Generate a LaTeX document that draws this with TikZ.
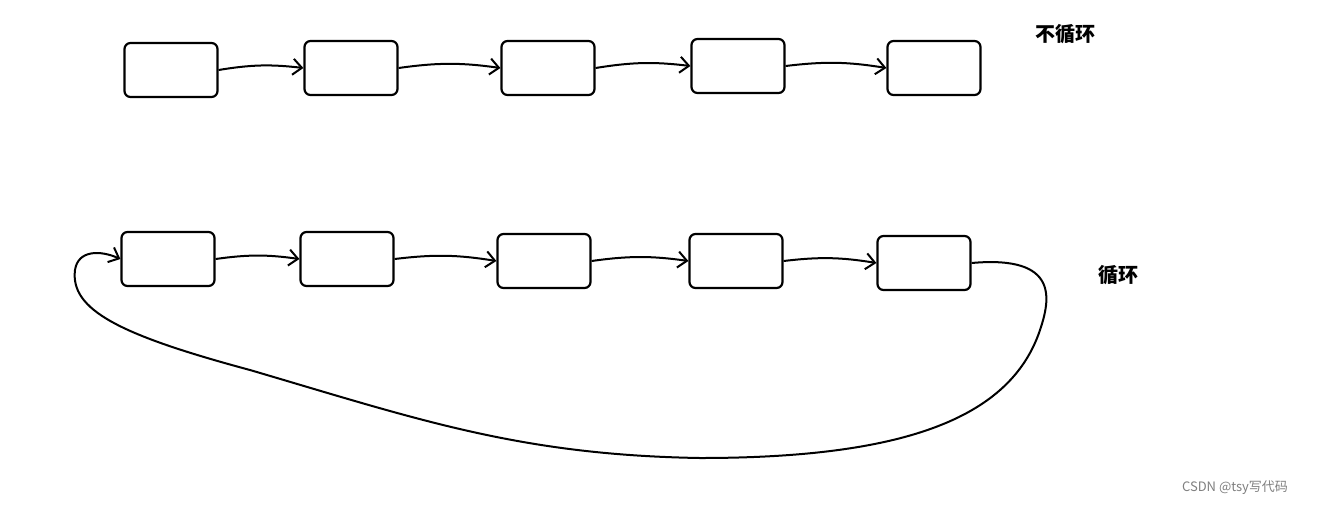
\documentclass[tikz,border=0pt]{standalone}
\usepackage{fontspec}
\newfontfamily\cjk{Noto Sans CJK SC}
\usetikzlibrary{arrows.meta}
\begin{document}
\begin{tikzpicture}[x=1pt,y=-1pt,
  nodebox/.style={draw,line width=2.2pt,rounded corners=6pt,minimum width=93pt,minimum height=54pt,inner sep=0pt},
  link/.style={line width=2pt,-{Straight Barb[length=9pt,width=16pt,line width=2pt]}}]
\useasboundingbox[fill=white] (0,0) rectangle (1321,507);
\node[nodebox] (a1) at (171,70) {};
\node[nodebox] (a2) at (351,68) {};
\node[nodebox] (a3) at (548,68) {};
\node[nodebox] (a4) at (738,66) {};
\node[nodebox] (a5) at (934,68) {};
\node[nodebox] (b1) at (168,259) {};
\node[nodebox] (b2) at (347,259) {};
\node[nodebox] (b3) at (544,261) {};
\node[nodebox] (b4) at (736,261) {};
\node[nodebox] (b5) at (924,263) {};
\foreach \p/\q in {a1/a2,a2/a3,a3/a4,a4/a5,b1/b2,b2/b3,b3/b4,b4/b5}
  \draw[link] (\p.east) to[bend left=8] (\q.west);
\draw[link] (b5.east) .. controls (1060,255) and (1050,300) .. (1040,330)
  .. controls (1010,420) and (900,458) .. (700,458)
  .. controls (520,455) and (420,420) .. (250,370)
  .. controls (120,335) and (70,310) .. (75,270)
  .. controls (78,250) and (100,250) .. (b1.west);
\node[font=\cjk\bfseries\fontsize{20}{24}\selectfont] (t1) at (1065,34) {不循环};
\node[font=\cjk\bfseries\fontsize{20}{24}\selectfont] (t2) at (1118,275) {循环};
\node[font=\cjk\fontsize{13}{16}\selectfont,text=gray] (w) at (1235,488) {CSDN @tsy写代码};
\end{tikzpicture}
\end{document}
